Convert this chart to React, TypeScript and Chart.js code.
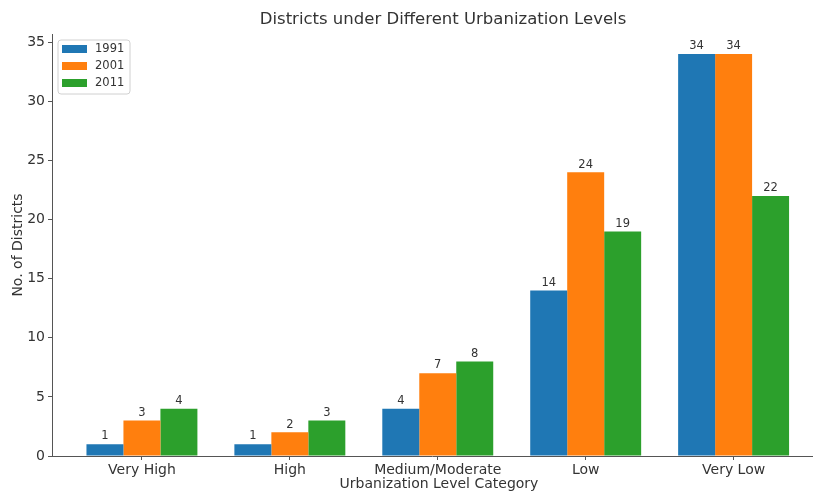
import React, { useEffect, useRef } from "react";
import { Chart, registerables } from "chart.js";

Chart.register(...registerables);

const categories = ["Very High", "High", "Medium/Moderate", "Low", "Very Low"];
const years = ["1991", "2001", "2011"];
const values1991 = [1, 1, 4, 14, 34];
const values2001 = [3, 2, 7, 24, 34];
const values2011 = [4, 3, 8, 19, 22];
const colors = ["#1f77b4", "#ff7f0e", "#2ca02c"];
const yTicks = [0, 5, 10, 15, 20, 25, 30, 35];

const chartTitle = "Districts under Different Urbanization Levels";
const xTitle = "Urbanization Level Category";
const yTitle = "No. of Districts";

const FONT = "'DejaVu Sans', sans-serif";
const TEXT = "#333333";
const AXIS = "#555555";

const overlay = {
  id: "overlay",
  afterDraw(chart: any) {
    const ctx = chart.ctx;
    const area = chart.chartArea;
    ctx.save();
    // value labels
    ctx.fillStyle = TEXT;
    ctx.font = `11.5px ${FONT}`;
    ctx.textAlign = "center";
    ctx.textBaseline = "bottom";
    chart.data.datasets.forEach((ds: any, di: number) => {
      const meta = chart.getDatasetMeta(di);
      meta.data.forEach((bar: any, i: number) => {
        ctx.fillText(String(ds.data[i].y), bar.x, bar.y - 2);
      });
    });
    // title
    ctx.font = `16.5px ${FONT}`;
    ctx.textBaseline = "middle";
    ctx.fillText(chartTitle, 443, 20);
    // x title
    ctx.font = `14px ${FONT}`;
    ctx.fillText(xTitle, 439, 484);
    // y title
    ctx.save();
    ctx.translate(18, (area.top + area.bottom) / 2);
    ctx.rotate(-Math.PI / 2);
    ctx.fillText(yTitle, 0, 0);
    ctx.restore();
    // legend
    const lx = 58, ly = 40, lw = 72, lh = 54;
    ctx.beginPath();
    if ((ctx as any).roundRect) (ctx as any).roundRect(lx, ly, lw, lh, 3);
    else ctx.rect(lx, ly, lw, lh);
    ctx.fillStyle = "rgba(255,255,255,0.8)";
    ctx.fill();
    ctx.strokeStyle = "#d0d0d0";
    ctx.lineWidth = 1;
    ctx.stroke();
    ctx.textAlign = "left";
    ctx.font = `11.5px ${FONT}`;
    years.forEach((y, i) => {
      const cy = 49 + i * 17;
      ctx.fillStyle = colors[i];
      ctx.fillRect(62, cy - 4, 25, 8);
      ctx.fillStyle = TEXT;
      ctx.fillText(y, 95, cy);
    });
    ctx.restore();
  },
};

export default function App() {
  const ref = useRef<HTMLCanvasElement>(null);
  useEffect(() => {
    document.body.style.margin = "0";
    const series = [values1991, values2001, values2011];
    const chart = new Chart(ref.current!, {
      type: "bar",
      data: {
        datasets: series.map((vals, si) => ({
          label: years[si],
          data: vals.map((v, i) => ({ x: i, y: v })),
          backgroundColor: colors[si],
          borderWidth: 0,
          categoryPercentage: 0.75,
          barPercentage: 1.0,
        })),
      },
      options: {
        responsive: false,
        animation: false,
        layout: { padding: { top: 34, right: 4, left: 0, bottom: 0 } },
        plugins: { legend: { display: false }, title: { display: false }, tooltip: { enabled: false } },
        scales: {
          x: {
            type: "linear",
            offset: false,
            min: -0.608,
            max: 4.53,
            afterBuildTicks: (s: any) => {
              s.ticks = categories.map((_, i) => ({ value: i }));
            },
            afterFit: (s: any) => {
              s.height = 37;
            },
            ticks: {
              callback: (v: any) => categories[v] ?? "",
              color: TEXT,
              font: { family: FONT, size: 14 },
              padding: 2,
              maxRotation: 0,
              autoSkip: false,
            },
            grid: { offset: false, drawOnChartArea: false, tickLength: 4, color: AXIS },
            border: { color: AXIS, width: 1 },
          },
          y: {
            min: 0,
            max: 35.7,
            afterBuildTicks: (s: any) => {
              s.ticks = yTicks.map((v) => ({ value: v }));
            },
            afterFit: (s: any) => {
              s.width = 52;
            },
            ticks: {
              color: TEXT,
              font: { family: FONT, size: 14 },
              padding: 3,
            },
            grid: { drawOnChartArea: false, tickLength: 4, color: AXIS },
            border: { color: AXIS, width: 1 },
          },
        },
      },
      plugins: [overlay],
    });
    return () => chart.destroy();
  }, []);
  return (
    <div style={{ position: "fixed", left: 0, top: 0, width: 816, height: 493, background: "#fff" }}>
      <canvas ref={ref} width={816} height={493} />
    </div>
  );
}
